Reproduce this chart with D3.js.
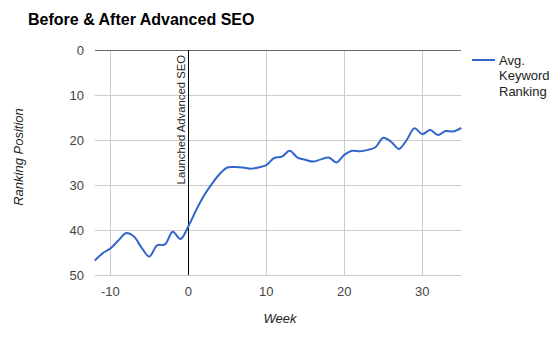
<!DOCTYPE html>
<html><head><meta charset="utf-8">
<script src="https://cdnjs.cloudflare.com/ajax/libs/d3/7.8.5/d3.min.js"></script>
<style>body{margin:0;background:#fff;}svg{display:block;font-family:Arial,"Liberation Sans",sans-serif;}</style>
</head><body>
<script>
const weeks = [-12,-11,-10,-9,-8,-7,-6,-5,-4,-3,-2,-1,0,1,2,3,4,5,6,7,8,9,10,11,12,13,14,15,16,17,18,19,20,21,22,23,24,25,26,27,28,29,30,31,32,33,34,35];
const ranking = [46.8,45.2,44.1,42.4,40.7,41.4,43.9,45.9,43.4,43.2,40.4,42,39.2,35.6,32.4,29.8,27.6,26.1,26,26.1,26.4,26.1,25.6,24,23.7,22.4,23.9,24.4,24.8,24.3,23.9,25,23.3,22.4,22.5,22.2,21.6,19.5,20.4,22,20,17.4,18.7,17.8,18.9,18,18.1,17.3];
const xTicks = [-10,0,10,20,30];
const yTicks = [0,10,20,30,40,50];
const title = "Before & After Advanced SEO";
const seriesName = ["Avg.","Keyword","Ranking"];
const markerLabel = "Launched Advanced SEO";

const W=560,H=339;
const svg=d3.select("body").append("svg").attr("width",W).attr("height",H);
const x=d3.scaleLinear().domain([-12,35]).range([94.7,461.3]);
const y=d3.scaleLinear().domain([0,50]).range([50,275]);

svg.append("text").attr("x",28).attr("y",25).attr("font-size",16).attr("font-weight","bold").attr("fill","#000").text(title);

// gridlines
svg.append("g").selectAll("line").data(yTicks.filter(d=>d!==0)).join("line")
 .attr("x1",x(-12)).attr("x2",x(35)).attr("y1",d=>y(d)).attr("y2",d=>y(d)).attr("stroke","#ccc").attr("stroke-width",1).attr("shape-rendering","crispEdges");
svg.append("g").selectAll("line").data(xTicks.filter(d=>d!==0)).join("line")
 .attr("x1",d=>Math.round(x(d))+0.5).attr("x2",d=>Math.round(x(d))+0.5).attr("y1",y(0)).attr("y2",y(50)).attr("stroke","#ccc");
// baseline at 0 ranking (top)
svg.append("line").attr("x1",x(-12)).attr("x2",x(35)).attr("y1",y(0)).attr("y2",y(0)).attr("stroke","#666").attr("stroke-width",1).attr("shape-rendering","crispEdges");
// week 0 line
svg.append("line").attr("x1",Math.round(x(0))+0.5).attr("x2",Math.round(x(0))+0.5).attr("y1",y(0)).attr("y2",y(50)).attr("stroke","#000").attr("stroke-width",1);

// axes labels
svg.append("g").selectAll("text").data(yTicks).join("text")
 .attr("x",84).attr("y",d=>y(d)+4.5).attr("text-anchor","end").attr("font-size",13).attr("fill","#444").text(d=>d);
svg.append("g").selectAll("text").data(xTicks).join("text")
 .attr("x",d=>x(d)).attr("y",296).attr("text-anchor","middle").attr("font-size",13).attr("fill","#444").text(d=>d);

svg.append("text").attr("transform","translate(23,157) rotate(-90)").attr("text-anchor","middle").attr("font-size",13).attr("font-style","italic").attr("fill","#222").text("Ranking Position");
svg.append("text").attr("x",280).attr("y",323).attr("text-anchor","middle").attr("font-size",13).attr("font-style","italic").attr("fill","#222").text("Week");

// marker label
svg.append("text").attr("transform",`translate(${x(0)-3},55) rotate(-90)`).attr("text-anchor","end").attr("font-size",11.3).attr("fill","#222").text(markerLabel);

// line
const line=d3.line().x((d,i)=>x(weeks[i])).y(d=>y(d)).curve(d3.curveCatmullRom.alpha(0.5));
svg.append("path").datum(ranking).attr("d",line).attr("fill","none").attr("stroke","#3366cc").attr("stroke-width",2);

// legend
svg.append("line").attr("x1",472).attr("x2",495).attr("y1",60).attr("y2",60).attr("stroke","#3366cc").attr("stroke-width",2);
svg.append("g").selectAll("text").data(seriesName).join("text")
 .attr("x",499).attr("y",(d,i)=>64.5+i*15.8).attr("font-size",13).attr("fill","#222").text(d=>d);
</script>
</body></html>
